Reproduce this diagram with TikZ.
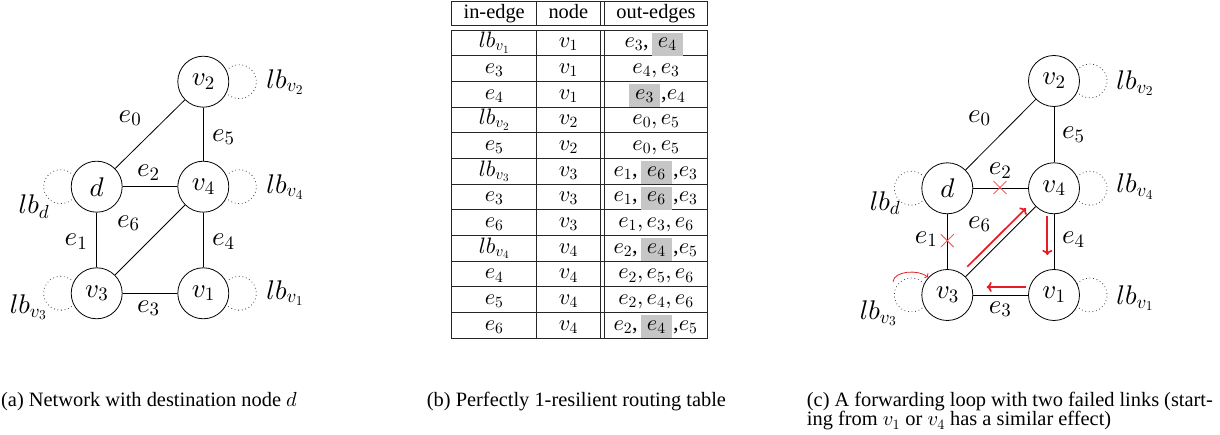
\documentclass[tikz,border=0pt]{standalone}
\usepackage[no-math]{fontspec}
\setmainfont{Liberation Serif}
\DeclareFontShape{OML}{cmm}{m}{it}{<-> cmmi10}{}
\DeclareFontShape{OT1}{cmr}{m}{n}{<-> cmr10}{}
\usetikzlibrary{arrows.meta,shapes.misc}
\definecolor{myred}{RGB}{232,28,36}
\definecolor{crossred}{RGB}{244,96,96}
\newcommand{\gfnt}{\fontsize{27}{31}\selectfont}
\newcommand{\tfnt}{\fontsize{20.4}{24}\selectfont}
\newcommand{\mfnt}{\fontsize{22.3}{26}\selectfont}
\begin{document}
\begin{tikzpicture}[x=1pt,y=1pt,
  vtx/.style={circle,draw,line width=0.8pt,minimum size=51pt,inner sep=0pt,font=\gfnt},
  lbl/.style={font=\gfnt,inner sep=0pt},
  edge/.style={line width=0.8pt},
  lp/.style={draw=black!75,line width=0.8pt,dash pattern=on 0.8pt off 2.8pt},
  tline/.style={line width=0.8pt,draw=black!85},
  tt/.style={font=\tfnt,anchor=base,inner sep=0pt},
  tm/.style={font=\mfnt,anchor=base,inner sep=0pt},
  hl/.style={fill=gray!45},
  captxt/.style={font=\tfnt,inner sep=0pt,anchor=base west},
  rarr/.style={draw=myred,line width=1.7pt,-{To[length=5pt,width=10pt]}},
  rthin/.style={draw=myred,line width=0.8pt,-{To[length=3pt,width=6pt]}},
  xmark/.style={draw=crossred,cross out,minimum size=12pt,inner sep=0pt,line width=0.9pt}]
\useasboundingbox (0,0) rectangle (1220,435);

% ---------------- panel (a)
\node[vtx] (a2) at (203.3,353.3) {$v_2$};
\node[vtx] (ad) at (96.7,248.3) {$d$};
\node[vtx] (a4) at (203.3,248.3) {$v_4$};
\node[vtx] (a3) at (96.7,141.7) {$v_3$};
\node[vtx] (a1) at (203.3,141.7) {$v_1$};
\draw[edge] (ad) -- (a2);
\draw[edge] (ad) -- (a4);
\draw[edge] (ad) -- (a3);
\draw[edge] (a2) -- (a4);
\draw[edge] (a4) -- (a1);
\draw[edge] (a3) -- (a1);
\draw[edge] (a3) -- (a4);
\draw[lp] ([shift={(22.98,10.93)}]a2.center) arc[start angle=140,end angle=-140,radius=17];
\draw[lp] ([shift={(22.98,10.93)}]a4.center) arc[start angle=140,end angle=-140,radius=17];
\draw[lp] ([shift={(22.98,10.93)}]a1.center) arc[start angle=140,end angle=-140,radius=17];
\draw[lp] ([shift={(-22.98,10.93)}]ad.center) arc[start angle=40,end angle=320,radius=17];
\draw[lp] ([shift={(-22.98,10.93)}]a3.center) arc[start angle=40,end angle=320,radius=17];
\node[lbl] (alb2) at (285,353) {$lb_{v_2}$};
\node[lbl] (alb4) at (285,248) {$lb_{v_4}$};
\node[lbl] (alb1) at (285,142) {$lb_{v_1}$};
\node[lbl] (albd) at (34,228.3) {$lb_d$};
\node[lbl] (alb3) at (28.3,127.7) {$lb_{v_3}$};
\node[lbl] (ae0) at (130,316.7) {$e_0$};
\node[lbl] (ae5) at (223.3,297.7) {$e_5$};
\node[lbl] (ae2) at (148.3,262.3) {$e_2$};
\node[lbl] (ae6) at (128.3,211.7) {$e_6$};
\node[lbl] (ae1) at (76,193.3) {$e_1$};
\node[lbl] (ae4) at (223.3,193.3) {$e_4$};
\node[lbl] (ae3) at (148.3,126.7) {$e_3$};

% ---------------- panel (b) table
\draw[tline] (451.7,409.3) rectangle (707.7,433.3);
\foreach \xx in {536.7,600,604.3} \draw[tline] (\xx,409.3) -- (\xx,433.3);
\draw[tline] (451.7,96.72) rectangle (707.7,405);
\foreach \xx in {536.7,600,604.3} \draw[tline] (\xx,96.72) -- (\xx,405);
\foreach \k in {1,...,11} \draw[tline] (451.7,405-25.69*\k) -- (707.7,405-25.69*\k);
\node[tt] (h1) at (494.2,416.7) {in-edge};
\node[tt] (h2) at (568.35,416.7) {node};
\node[tt] (h3) at (656,416.7) {out-edges};
\foreach \k/\a/\b in {1/lb_{v_1}/v_1,2/e_3/v_1,3/e_4/v_1,4/lb_{v_2}/v_2,5/e_5/v_2,6/lb_{v_3}/v_3,7/e_3/v_3,8/e_6/v_3,9/lb_{v_4}/v_4,10/e_4/v_4,11/e_5/v_4,12/e_6/v_4}{
  \node[tm] (in\k) at (494.2,413-25.69*\k) {$\a$};
  \node[tm] (nd\k) at (568.35,413-25.69*\k) {$\b$};
}
\foreach \k/\c in {2/{e_4, e_3},4/{e_0, e_5},5/{e_0, e_5},8/{e_1, e_3, e_6},10/{e_2, e_5, e_6},11/{e_2, e_4, e_6}}{
  \node[tm] (out\k) at (656,413-25.69*\k) {$\c$};
}
% highlighted rows
\fill[hl] (652,379.31) rectangle (682.7,402.3);
\node[tm] (out1) at (667.3,387.31) {$e_4$};
\node[tm,anchor=base east] (out1a) at (649,387.31) {$e_3$,};
\fill[hl] (629,327.93) rectangle (660,351);
\node[tm] (out3) at (644.5,335.93) {$e_3$};
\node[tm,anchor=base west] (out3b) at (661,335.93) {,$e_4$};
\foreach \k/\p/\m/\q in {6/e_1/e_6/e_3,7/e_1/e_6/e_3,9/e_2/e_4/e_5,12/e_2/e_4/e_5}{
  \fill[hl] (641,405-25.69*\k) rectangle (671.7,405-25.69*\k+23);
  \node[tm] (out\k) at (656.3,413-25.69*\k) {$\m$};
  \node[tm,anchor=base east] (out\k a) at (638,413-25.69*\k) {$\p$,};
  \node[tm,anchor=base west] (out\k b) at (673,413-25.69*\k) {,$\q$};
}

% ---------------- panel (c)
\node[vtx] (c2) at (1054,354) {$v_2$};
\node[vtx] (cd) at (947.3,246.7) {$d$};
\node[vtx] (c4) at (1054,246.7) {$v_4$};
\node[vtx] (c3) at (947.3,140) {$v_3$};
\node[vtx] (c1) at (1054,140) {$v_1$};
\draw[edge] (cd) -- (c2);
\draw[edge] (cd) -- (c4);
\draw[edge] (cd) -- (c3);
\draw[edge] (c2) -- (c4);
\draw[edge] (c4) -- (c1);
\draw[edge] (c3) -- (c1);
\draw[edge] (c3) -- (c4);
\draw[lp] ([shift={(22.98,10.93)}]c2.center) arc[start angle=140,end angle=-140,radius=17];
\draw[lp] ([shift={(22.98,10.93)}]c4.center) arc[start angle=140,end angle=-140,radius=17];
\draw[lp] ([shift={(22.98,10.93)}]c1.center) arc[start angle=140,end angle=-140,radius=17];
\draw[lp] ([shift={(-22.98,10.93)}]cd.center) arc[start angle=40,end angle=320,radius=17];
\draw[lp] ([shift={(-22.98,10.93)}]c3.center) arc[start angle=40,end angle=320,radius=17];
\node[lbl] (clb2) at (1135,351.7) {$lb_{v_2}$};
\node[lbl] (clb4) at (1135,248.3) {$lb_{v_4}$};
\node[lbl] (clb1) at (1135,136.7) {$lb_{v_1}$};
\node[lbl] (clbd) at (885,231.7) {$lb_d$};
\node[lbl] (clb3) at (878.3,121.7) {$lb_{v_3}$};
\node[lbl] (ce0) at (979.3,316.7) {$e_0$};
\node[lbl] (ce5) at (1073.3,300) {$e_5$};
\node[lbl] (ce2) at (1000,264) {$e_2$};
\node[lbl] (ce6) at (979.3,210.7) {$e_6$};
\node[lbl] (ce1) at (926,195.7) {$e_1$};
\node[lbl] (ce4) at (1073.3,195) {$e_4$};
\node[lbl] (ce3) at (1000,125.7) {$e_3$};
\node[xmark] (x2) at (1000,247.5) {};
\node[xmark] (x1) at (947.3,194.3) {};
\coordinate (r1s) at (967.3,168.3);
\coordinate (r1e) at (1026,226.7);
\coordinate (r2s) at (1047.3,219);
\coordinate (r2e) at (1047.3,180);
\coordinate (r3s) at (1025.5,148);
\coordinate (r3e) at (986.7,148);
\coordinate (r4s) at (893,153.3);
\coordinate (r4e) at (928.3,157.7);
\draw[rarr] (r1s) -- (r1e);
\draw[rarr] (r2s) -- (r2e);
\draw[rarr] (r3s) -- (r3e);
\draw[rthin] (r4s) .. controls (894,164) and (918,166) .. (r4e);

% ---------------- captions
\node[captxt] (capa) at (1,28) {(a) Network with destination node $d$};
\node[captxt] (capb) at (426.7,28) {(b) Perfectly 1-resilient routing table};
\node[captxt] (capc1) at (806.7,28) {\makebox[406pt][s]{(c) A forwarding loop with two failed links (start-}};
\node[captxt] (capc2) at (806.7,9) {ing from $v_1$ or $v_4$ has a similar effect)};
\end{tikzpicture}
\end{document}
